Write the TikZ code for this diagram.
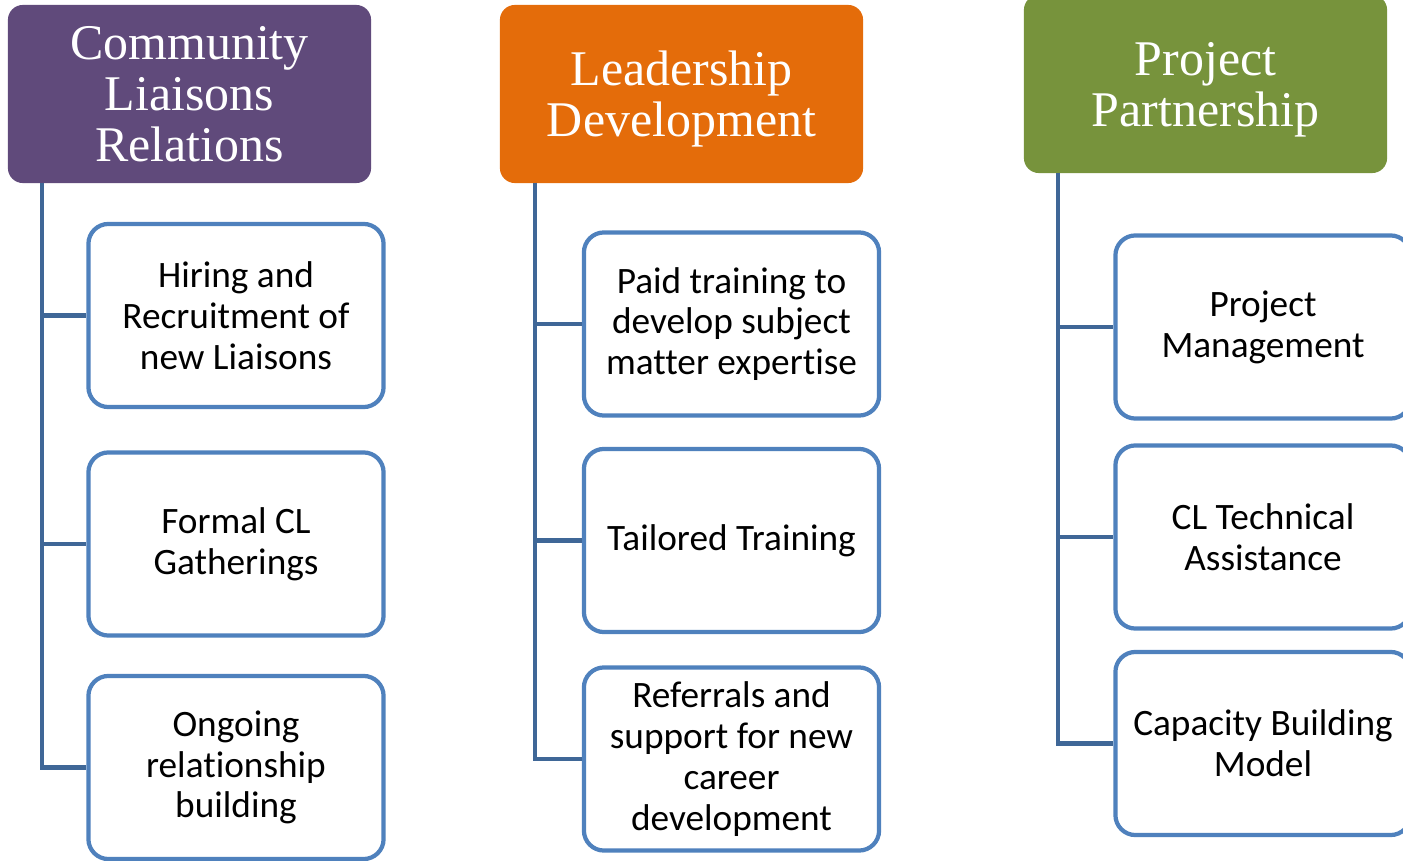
\documentclass[tikz,border=0pt]{standalone}
\usepackage{fontspec}
\setmainfont{Liberation Serif}
\newfontfamily\boxfont[Ligatures=CommonOff]{Carlito}
\usepackage{tikz}

\definecolor{clpurple}{HTML}{604A7B}
\definecolor{ldorange}{HTML}{E46C0A}
\definecolor{ppgreen}{HTML}{77933C}
\definecolor{boxblue}{HTML}{4F81BD}
\definecolor{linkblue}{HTML}{3F6797}

\begin{document}
\begin{tikzpicture}[x=0.01cm,y=-0.01cm,
  head/.style={rounded corners=0.15cm, minimum width=3.63cm, minimum height=1.78cm,
    text=white, align=center, font=\fontsize{14.2}{14.5}\selectfont, inner sep=0pt},
  item/.style={draw=boxblue, line width=1.2pt, fill=white, rounded corners=0.2cm,
    minimum width=2.95cm, minimum height=1.83cm, align=center, inner sep=0pt,
    font=\boxfont\fontsize{10.6}{11.6}\selectfont},
  link/.style={draw=linkblue, line width=1.4pt}]
  \useasboundingbox (0,0) rectangle (1403,861);

  % headers
  \node (h1) at (189.5,94) [head, fill=clpurple] {Community\\Liaisons\\Relations};
  \node (h2) at (681.5,94) [head, fill=ldorange, text depth=0pt] {Leadership\\Development};
  \node (h3) at (1205.5,84) [head, fill=ppgreen, text depth=0pt] {Project\\Partnership};

  % first column
  \node (a1) at (236,315.5) [item] {Hiring and\\Recruitment of\\new Liaisons};
  \node (a2) at (236,544) [item] {Formal CL\\Gatherings};
  \node (a3) at (236,767.5) [item] {Ongoing\\relationship\\building};

  % second column
  \node (b1) at (731.5,324) [item] {Paid training to\\develop subject\\matter expertise};
  \node (b2) at (731.5,540.5) [item] {Tailored Training};
  \node (b3) at (731.5,759) [item] {Referrals and\\support for new\\career\\development};

  % third column
  \node (c1) at (1263,327) [item] {Project\\Management};
  \node (c2) at (1263,537) [item] {CL Technical\\Assistance};
  \node (c3) at (1263,743.5) [item] {Capacity Building\\Model};

  \coordinate (ta) at (42,183);
  \coordinate (tb) at (535,183);
  \coordinate (tc) at (1058,173);

  \draw[link] (ta) |- (a3.west);
  \draw[link] (ta) |- (a1.west);
  \draw[link] (ta) |- (a2.west);
  \draw[link] (tb) |- (b3.west);
  \draw[link] (tb) |- (b1.west);
  \draw[link] (tb) |- (b2.west);
  \draw[link] (tc) |- (c3.west);
  \draw[link] (tc) |- (c1.west);
  \draw[link] (tc) |- (c2.west);
\end{tikzpicture}
\end{document}
